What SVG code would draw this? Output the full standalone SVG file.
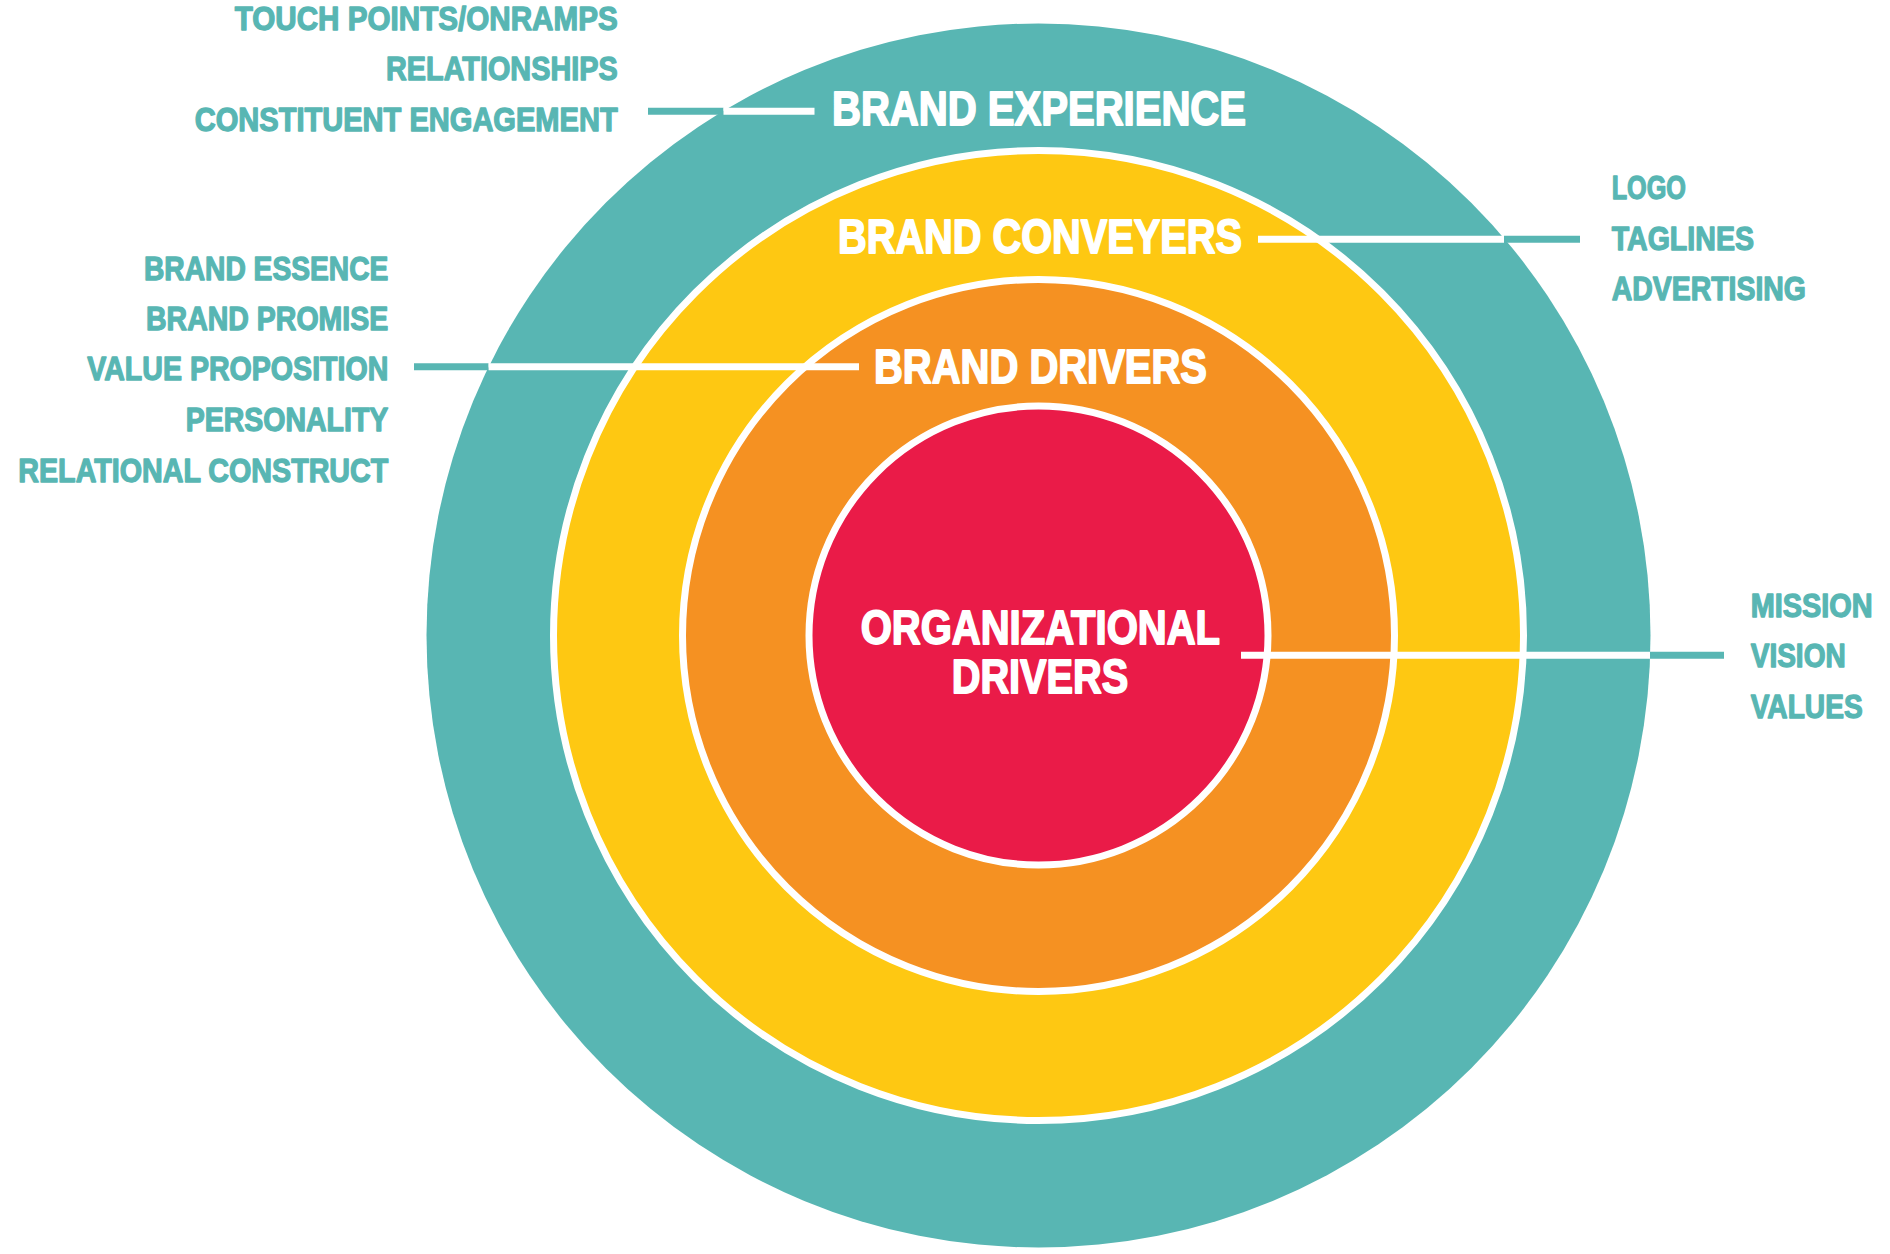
<svg xmlns="http://www.w3.org/2000/svg" width="1890" height="1254" viewBox="0 0 1890 1254">
<style>
.lbl{font-family:"Liberation Sans","DejaVu Sans",Arial,sans-serif;font-weight:bold;font-size:33px;fill:#58B6B3;stroke:#58B6B3;stroke-width:1.3;stroke-linejoin:round}
.big{font-family:"Liberation Sans","DejaVu Sans",Arial,sans-serif;font-weight:bold;font-size:48px;fill:#FFFFFF;stroke:#FFFFFF;stroke-width:1.8;stroke-linejoin:round}
.ring{stroke:#FFFFFF;stroke-width:7}
.cw{stroke:#FFFFFF;stroke-width:7;fill:none}
.ct{stroke:#58B6B3;stroke-width:7;fill:none}
</style>
<rect width="1890" height="1254" fill="#FFFFFF"/>
<g id="brand-experience">
<circle cx="1038.5" cy="635.5" r="612" fill="#58B6B3"/>
</g>
<g id="brand-conveyers">
<circle class="ring" cx="1038.5" cy="635.5" r="485" fill="#FEC812"/>
</g>
<g id="brand-drivers">
<circle class="ring" cx="1038.5" cy="635.5" r="356" fill="#F59122"/>
</g>
<g id="organizational-drivers">
<circle class="ring" cx="1038.5" cy="635.5" r="229.5" fill="#EA1B48"/>
</g>
<g id="connectors">
<line class="ct" x1="648" y1="111.2" x2="723.5" y2="111.2"/>
<line class="cw" x1="723.5" y1="111.2" x2="814.5" y2="111.2"/>
<line class="cw" x1="1258" y1="239.2" x2="1504" y2="239.2"/>
<line class="ct" x1="1504" y1="239.2" x2="1580" y2="239.2"/>
<line class="ct" x1="414" y1="366.7" x2="488.6" y2="366.7"/>
<line class="cw" x1="488.6" y1="366.7" x2="859" y2="366.7"/>
<line class="cw" x1="1241" y1="655.3" x2="1650" y2="655.3"/>
<line class="ct" x1="1650" y1="655.3" x2="1724" y2="655.3"/>
</g>
<g id="ring-labels">
<text class="big" x="832" y="125" textLength="414" lengthAdjust="spacingAndGlyphs">BRAND EXPERIENCE</text>
<text class="big" x="838" y="252.7" textLength="404" lengthAdjust="spacingAndGlyphs">BRAND CONVEYERS</text>
<text class="big" x="874" y="383.3" textLength="333" lengthAdjust="spacingAndGlyphs">BRAND DRIVERS</text>
<text class="big" x="860.7" y="644" textLength="359.3" lengthAdjust="spacingAndGlyphs">ORGANIZATIONAL</text>
<text class="big" x="951.7" y="693.3" textLength="176.6" lengthAdjust="spacingAndGlyphs">DRIVERS</text>
</g>
<g id="experience-items">
<text class="lbl" x="234.7" y="30" textLength="383" lengthAdjust="spacingAndGlyphs">TOUCH POINTS/ONRAMPS</text>
<text class="lbl" x="386" y="80" textLength="231.7" lengthAdjust="spacingAndGlyphs">RELATIONSHIPS</text>
<text class="lbl" x="194.7" y="130.5" textLength="423" lengthAdjust="spacingAndGlyphs">CONSTITUENT ENGAGEMENT</text>
</g>
<g id="drivers-items">
<text class="lbl" x="144" y="280" textLength="244.3" lengthAdjust="spacingAndGlyphs">BRAND ESSENCE</text>
<text class="lbl" x="146" y="330.3" textLength="242.3" lengthAdjust="spacingAndGlyphs">BRAND PROMISE</text>
<text class="lbl" x="87.3" y="380.3" textLength="301" lengthAdjust="spacingAndGlyphs">VALUE PROPOSITION</text>
<text class="lbl" x="185.7" y="430.7" textLength="202.6" lengthAdjust="spacingAndGlyphs">PERSONALITY</text>
<text class="lbl" x="18.3" y="481.7" textLength="370" lengthAdjust="spacingAndGlyphs">RELATIONAL CONSTRUCT</text>
</g>
<g id="conveyers-items">
<text class="lbl" x="1611.7" y="199.3" textLength="74.3" lengthAdjust="spacingAndGlyphs">LOGO</text>
<text class="lbl" x="1611.7" y="249.5" textLength="142.3" lengthAdjust="spacingAndGlyphs">TAGLINES</text>
<text class="lbl" x="1611.7" y="300" textLength="194.3" lengthAdjust="spacingAndGlyphs">ADVERTISING</text>
</g>
<g id="organizational-items">
<text class="lbl" x="1750.7" y="616.7" textLength="122" lengthAdjust="spacingAndGlyphs">MISSION</text>
<text class="lbl" x="1750.7" y="667.3" textLength="95" lengthAdjust="spacingAndGlyphs">VISION</text>
<text class="lbl" x="1750.7" y="718" textLength="112" lengthAdjust="spacingAndGlyphs">VALUES</text>
</g>
</svg>
